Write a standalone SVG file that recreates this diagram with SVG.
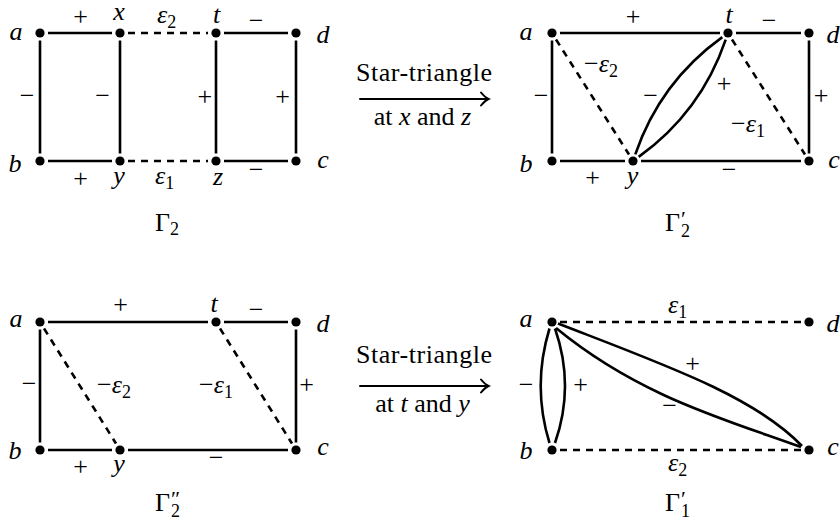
<svg xmlns="http://www.w3.org/2000/svg" width="840" height="529" viewBox="0 0 840 529">
<style>
text{font-family:"Liberation Serif","Times New Roman","DejaVu Serif",serif;font-size:26px;fill:#000}
.i{font-style:italic}
.m{text-anchor:middle}
.s{font-size:18px;font-style:normal}
.p{font-size:22px;font-style:normal}
.e{stroke:#000;stroke-width:2.6;fill:none}
.d{stroke-dasharray:7 6}
.n{fill:#000}
.ar{stroke:#000;stroke-width:2;fill:none;stroke-linecap:round}
</style>
<rect width="840" height="529" fill="#fff"/>
<g id="connectors">
<path class="e" d="M48,33H112M224,33H288M48,161H112M224,161H288M40,40.5V153.5M120,40.5V153.5M216,40.5V153.5M296,40.5V153.5"/>
<path class="e d" d="M128,33H208M128,161H208"/>
<path class="e" d="M560,33H720M736,33H801M560,161H625M641,161H801M552,40.5V153.5M809,40.5V153.5"/>
<path class="e d" d="M556,39.5L629,154.5M732,39.5L805,154.5"/>
<path class="e" d="M635.3,154.4Q660,82 722.3,37.1M638.7,156.9Q701,112 725.7,39.6"/>
<path class="e" d="M48,322H208M224,322H288M48,450H112M128,450H288M40,329.5V442.5M296,329.5V442.5"/>
<path class="e d" d="M44,328.5L116,443.5M220,328.5L292,443.5"/>
<path class="e d" d="M560,322H801M560,450H801"/>
<path class="e" d="M549.5,328.5Q531.9,386 549.5,443M555,328.5Q575,386 555,443"/>
<path class="e" d="M558,323.5C665,365 754,396 802,446M556,328C640,397 727,420 801,447"/>
</g>
<g id="transitions">
<path class="ar" d="M360,99H487"/>
<path class="ar" d="M481,92.5Q485,97.5 488.5,99Q485,100.5 481,105.5"/>
<text class="m" x="424" y="81" textLength="136" lengthAdjust="spacing">Star-triangle</text>
<text class="m" x="422.5" y="125">at <tspan class="i">x</tspan> and <tspan class="i">z</tspan></text>
<path class="ar" d="M360,386H487"/>
<path class="ar" d="M481,379.5Q485,384.5 488.5,386Q485,387.5 481,392.5"/>
<text class="m" x="424" y="363" textLength="136" lengthAdjust="spacing">Star-triangle</text>
<text class="m" x="422.5" y="412">at <tspan class="i">t</tspan> and <tspan class="i">y</tspan></text>
</g>
<g id="edge-labels">
<text class="m" x="80.5" y="24.5">+</text>
<text class="m" x="256" y="29">−</text>
<text class="m" x="27" y="104">−</text>
<text class="m" x="102.5" y="104">−</text>
<text class="m" x="204.8" y="104.5">+</text>
<text class="m" x="282.5" y="104.5">+</text>
<text class="m" x="80.5" y="186.5">+</text>
<text class="m" x="256" y="177.7">−</text>
<text class="i" x="157" y="23.3">ε<tspan class="s" dy="5">2</tspan></text>
<text class="i" x="155" y="183.5">ε<tspan class="s" dy="5">1</tspan></text>
<text class="m" x="633" y="24.5">+</text>
<text class="m" x="769" y="29">−</text>
<text x="584" y="71.7">−<tspan class="i">ε</tspan><tspan class="s" dy="5">2</tspan></text>
<text class="m" x="541" y="104">−</text>
<text class="m" x="650.5" y="104">−</text>
<text class="m" x="724" y="92">+</text>
<text class="m" x="821" y="104">+</text>
<text x="731" y="131.7">−<tspan class="i">ε</tspan><tspan class="s" dy="5">1</tspan></text>
<text class="m" x="592.5" y="186">+</text>
<text class="m" x="729" y="177.7">−</text>
<text class="m" x="120.5" y="312.7">+</text>
<text class="m" x="256" y="317.7">−</text>
<text class="m" x="29" y="392">−</text>
<text x="97" y="393.3">−<tspan class="i">ε</tspan><tspan class="s" dy="5">2</tspan></text>
<text x="199" y="393">−<tspan class="i">ε</tspan><tspan class="s" dy="5">1</tspan></text>
<text class="m" x="306.7" y="392.7">+</text>
<text class="m" x="80.5" y="475">+</text>
<text class="m" x="216" y="466">−</text>
<text class="i" x="668" y="313">ε<tspan class="s" dy="5">1</tspan></text>
<text class="i" x="668" y="470.7">ε<tspan class="s" dy="5">2</tspan></text>
<text class="m" x="526" y="392.7">−</text>
<text class="m" x="580.5" y="393">+</text>
<text class="m" x="692.5" y="372">+</text>
<text class="m" x="669.5" y="413.7">−</text>
</g>
<g id="captions">
<text x="155" y="231">Γ<tspan class="s" dy="4">2</tspan></text>
<text x="665" y="231">Γ<tspan class="p" x="681" y="226">′</tspan></text>
<text class="s" x="681" y="237">2</text>
<text x="155" y="511">Γ<tspan class="p" x="171" y="506">″</tspan></text>
<text class="s" x="171" y="517">2</text>
<text x="665" y="511">Γ<tspan class="p" x="681" y="506">′</tspan></text>
<text class="s" x="681" y="517">1</text>
</g>
<g id="g2-a"><circle class="n" cx="40" cy="33" r="4.6"/><text class="i m" x="16" y="40">a</text></g>
<g id="g2-x"><circle class="n" cx="120" cy="33" r="4.6"/><text class="i m" x="119" y="20">x</text></g>
<g id="g2-t"><circle class="n" cx="216" cy="33" r="4.6"/><text class="i m" x="216.5" y="23">t</text></g>
<g id="g2-d"><circle class="n" cx="296" cy="33" r="4.6"/><text class="i m" x="323" y="43">d</text></g>
<g id="g2-b"><circle class="n" cx="40" cy="161" r="4.6"/><text class="i m" x="15" y="171.5">b</text></g>
<g id="g2-y"><circle class="n" cx="120" cy="161" r="4.6"/><text class="i m" x="119" y="184">y</text></g>
<g id="g2-z"><circle class="n" cx="216" cy="161" r="4.6"/><text class="i m" x="218" y="185">z</text></g>
<g id="g2-c"><circle class="n" cx="296" cy="161" r="4.6"/><text class="i m" x="323" y="168">c</text></g>
<g id="g2p-a"><circle class="n" cx="552" cy="33" r="4.6"/><text class="i m" x="526" y="40">a</text></g>
<g id="g2p-t"><circle class="n" cx="728" cy="33" r="4.6"/><text class="i m" x="729" y="23">t</text></g>
<g id="g2p-d"><circle class="n" cx="809" cy="33" r="4.6"/><text class="i m" x="833" y="43">d</text></g>
<g id="g2p-b"><circle class="n" cx="552" cy="161" r="4.6"/><text class="i m" x="526" y="171.5">b</text></g>
<g id="g2p-y"><circle class="n" cx="633" cy="161" r="4.6"/><text class="i m" x="632.5" y="184">y</text></g>
<g id="g2p-c"><circle class="n" cx="809" cy="161" r="4.6"/><text class="i m" x="834" y="168">c</text></g>
<g id="g2pp-a"><circle class="n" cx="40" cy="322" r="4.6"/><text class="i m" x="16" y="327">a</text></g>
<g id="g2pp-t"><circle class="n" cx="216" cy="322" r="4.6"/><text class="i m" x="214" y="311.7">t</text></g>
<g id="g2pp-d"><circle class="n" cx="296" cy="322" r="4.6"/><text class="i m" x="323" y="332">d</text></g>
<g id="g2pp-b"><circle class="n" cx="40" cy="450" r="4.6"/><text class="i m" x="15" y="459">b</text></g>
<g id="g2pp-y"><circle class="n" cx="120" cy="450" r="4.6"/><text class="i m" x="119" y="472">y</text></g>
<g id="g2pp-c"><circle class="n" cx="296" cy="450" r="4.6"/><text class="i m" x="323" y="455">c</text></g>
<g id="g1p-a"><circle class="n" cx="552" cy="322" r="4.6"/><text class="i m" x="526" y="327">a</text></g>
<g id="g1p-d"><circle class="n" cx="809" cy="322" r="4.6"/><text class="i m" x="833" y="332">d</text></g>
<g id="g1p-b"><circle class="n" cx="552" cy="450" r="4.6"/><text class="i m" x="526" y="459">b</text></g>
<g id="g1p-c"><circle class="n" cx="809" cy="450" r="4.6"/><text class="i m" x="833" y="455">c</text></g>
</svg>
